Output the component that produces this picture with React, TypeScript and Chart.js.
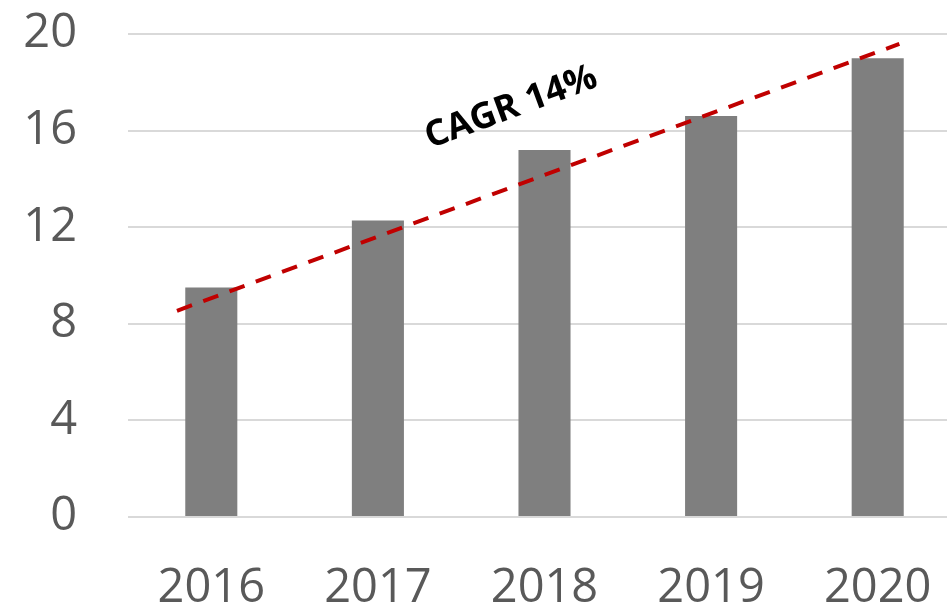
import React, { useEffect, useRef } from "react";
import { Chart, registerables } from "chart.js";

Chart.register(...registerables);

const categories = ["2016", "2017", "2018", "2019", "2020"];
const barValues = [9.5, 12.28, 15.2, 16.6, 19.0];
const yTicks = [0, 4, 8, 12, 16, 20];
// CAGR trend line endpoints (x in category index units, y in value units)
const trendX = [-0.206, 4.13];
const trendY = [8.54, 19.59];
const annotationText = "CAGR 14%";
const annotationPos = { x: 1.8, y: 16.95 };

const FONT = "'Open Sans', 'Liberation Sans', sans-serif";

const annotationPlugin = {
  id: "cagrLabel",
  afterDatasetsDraw(chart: any) {
    const xs = chart.scales.xTrend;
    const ys = chart.scales.y;
    const ctx = chart.ctx;
    const x0 = xs.getPixelForValue(trendX[0]);
    const y0 = ys.getPixelForValue(trendY[0]);
    const x1 = xs.getPixelForValue(trendX[1]);
    const y1 = ys.getPixelForValue(trendY[1]);
    const angle = Math.atan2(y1 - y0, x1 - x0);
    const px = xs.getPixelForValue(annotationPos.x);
    const py = ys.getPixelForValue(annotationPos.y);
    ctx.save();
    ctx.translate(px, py);
    ctx.rotate(angle);
    ctx.font = `bold 36px ${FONT}`;
    ctx.fillStyle = "#000000";
    ctx.textAlign = "center";
    ctx.textBaseline = "middle";
    ctx.fillText(annotationText, 0, 0);
    ctx.restore();
  },
};

export default function App() {
  const canvasRef = useRef<HTMLCanvasElement | null>(null);

  useEffect(() => {
    if (!canvasRef.current) return;
    const chart = new Chart(canvasRef.current, {
      type: "bar",
      data: {
        labels: categories,
        datasets: [
          {
            type: "line",
            data: trendX.map((x, i) => ({ x, y: trendY[i] })),
            xAxisID: "xTrend",
            yAxisID: "y",
            borderColor: "#c00000",
            borderWidth: 4,
            borderDash: [16, 12],
            pointRadius: 0,
            fill: false,
            tension: 0,
            order: 0,
          } as any,
          {
            type: "bar",
            data: barValues,
            xAxisID: "x",
            yAxisID: "y",
            backgroundColor: "#7f7f7f",
            borderWidth: 0,
            barPercentage: 0.3125,
            categoryPercentage: 1,
            grouped: false,
            order: 1,
          } as any,
        ],
      },
      options: {
        animation: false,
        responsive: true,
        maintainAspectRatio: false,
        layout: { padding: { top: 34, left: 0, right: 0, bottom: 0 } },
        plugins: {
          legend: { display: false },
          tooltip: { enabled: false },
          title: { display: false },
        },
        scales: {
          x: {
            type: "category",
            offset: true,
            grid: { display: false, drawTicks: false },
            border: { display: false },
            ticks: {
              color: "#595959",
              font: { family: FONT, size: 47 },
              padding: 43,
              maxRotation: 0,
              autoSkip: false,
            },
            afterFit: (scale: any) => {
              scale.height = 103;
              scale.paddingLeft = 0;
              scale.paddingRight = 0;
            },
          },
          xTrend: {
            type: "linear",
            position: "bottom",
            display: false,
            offset: false,
            min: -0.5,
            max: 4.5,
            grid: { display: false, drawTicks: false, offset: false },
            border: { display: false },
            ticks: { display: false },
          },
          y: {
            type: "linear",
            min: 0,
            max: 20,
            afterBuildTicks: (scale: any) => {
              scale.ticks = yTicks.map((v) => ({ value: v }));
            },
            grid: { color: "#d9d9d9", lineWidth: 2, drawTicks: false },
            border: { display: false },
            ticks: {
              color: "#595959",
              font: { family: FONT, size: 47 },
              padding: 51,
            },
            afterFit: (scale: any) => {
              scale.width = 128;
              scale.paddingTop = 0;
              scale.paddingBottom = 0;
            },
          },
        },
      },
      plugins: [annotationPlugin],
    });
    return () => chart.destroy();
  }, []);

  return (
    <div
      style={{
        position: "fixed",
        left: 0,
        top: 0,
        width: 947,
        height: 609,
        overflow: "hidden",
        background: "#ffffff",
      }}
    >
      <div style={{ position: "relative", width: 961, height: 620 }}>
        <canvas ref={canvasRef} />
      </div>
    </div>
  );
}
